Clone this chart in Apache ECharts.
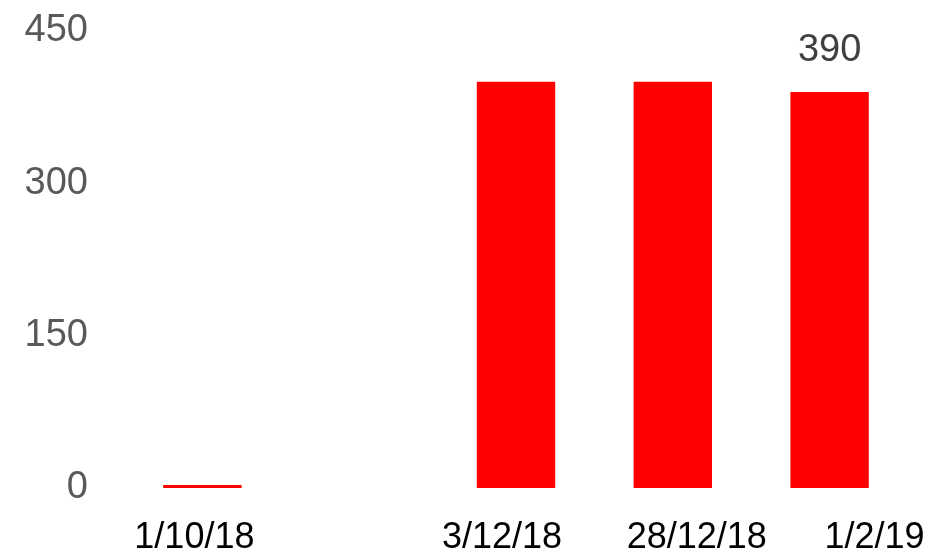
<!DOCTYPE html>
<html>
<head>
<meta charset="utf-8">
<script src="https://cdn.jsdelivr.net/npm/echarts@6/dist/echarts.min.js"></script>
<style>
  html, body { margin: 0; padding: 0; background: #fff; }
  #chart { width: 932px; height: 556px; }
</style>
</head>
<body>
<div id="chart"></div>
<script>
var categories = ['1/10/18', '', '3/12/18', '28/12/18', '1/2/19'];
var values = [3, null, 400, 400, 390];
var yTicks = [0, 150, 300, 450];

var chart = echarts.init(document.getElementById('chart'));

// x labels in the picture sit a little off their bars
var nudge = [[0, 16, 6, 0], [0, 0, 0, 0], [0, 28, 0, 0], [0, 0, 0, 48], [0, 0, 0, 90]];
var rich = {};
nudge.forEach(function (p, i) {
  rich['c' + i] = { padding: p, fontSize: 36, color: '#000', fontFamily: 'Liberation Sans' };
});

chart.setOption({
  animation: false,
  grid: { left: 124, right: 24, top: 31, bottom: 67 },
  xAxis: {
    type: 'category',
    data: categories,
    axisLine: { show: false },
    axisTick: { show: false },
    axisLabel: {
      interval: 0,
      margin: 32,
      formatter: function (v, i) { return v ? '{c' + i + '|' + v + '}' : ''; },
      rich: rich
    }
  },
  yAxis: {
    type: 'value',
    min: yTicks[0],
    max: yTicks[yTicks.length - 1],
    interval: yTicks[1] - yTicks[0],
    splitLine: { show: false },
    axisLine: { show: false },
    axisTick: { show: false },
    axisLabel: {
      margin: 36,
      fontSize: 38,
      color: '#595959',
      fontFamily: 'Liberation Sans'
    }
  },
  series: [{
    type: 'bar',
    data: values,
    barWidth: '50%',
    itemStyle: { color: '#ff0000' },
    label: {
      show: true,
      position: 'top',
      distance: 22,
      fontSize: 38,
      color: '#404040',
      fontFamily: 'Liberation Sans',
      formatter: function (p) { return p.dataIndex === values.length - 1 ? p.value : ''; }
    }
  }]
});
</script>
</body>
</html>
